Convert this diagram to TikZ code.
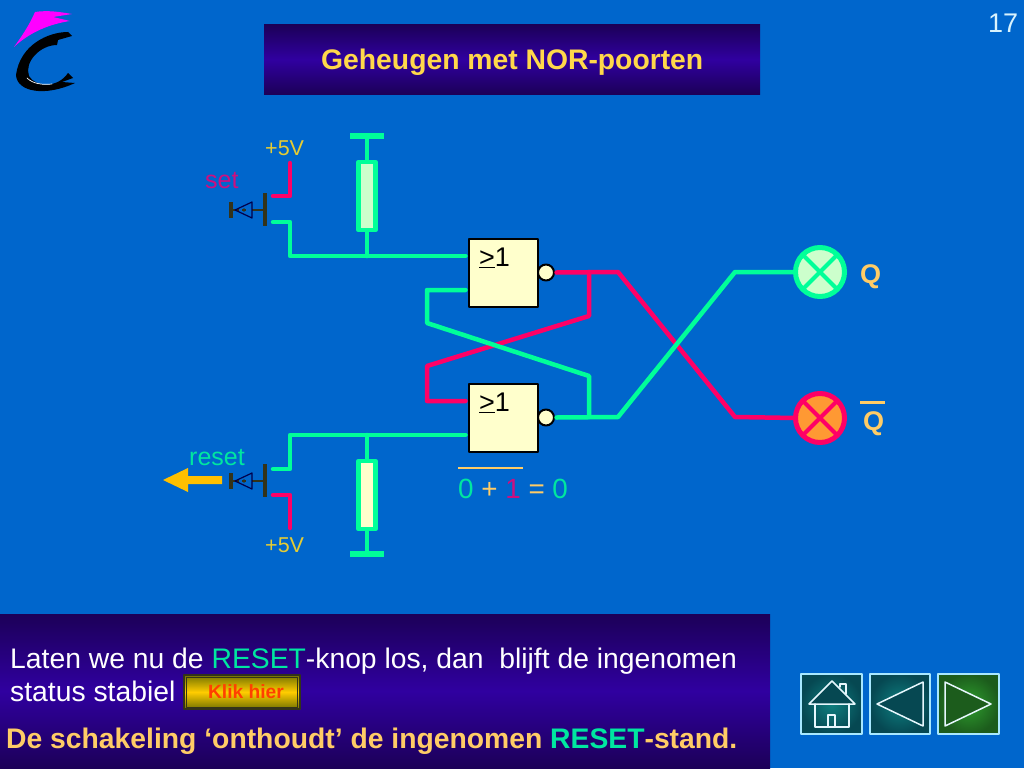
\documentclass[tikz,border=0pt]{standalone}
\usepackage{fontspec}
\setmainfont{Liberation Sans}
\usetikzlibrary{arrows.meta}
\definecolor{bgblue}{HTML}{0066CC}
\definecolor{paneldark}{HTML}{1C0058}
\definecolor{panelmid}{HTML}{3000A0}
\definecolor{wiregreen}{HTML}{00FF99}
\definecolor{wirered}{HTML}{FF0066}
\definecolor{txtorange}{HTML}{FFCC66}
\definecolor{txttitle}{HTML}{FFD84A}
\definecolor{txtyellow}{HTML}{E6CC33}
\definecolor{txtgreen}{HTML}{00E6A0}
\definecolor{txtred}{HTML}{CC0F80}
\definecolor{gatefill}{HTML}{FFFFCC}
\definecolor{lampgreen}{HTML}{CCFFCC}
\definecolor{lamporange}{HTML}{FF9933}
\definecolor{logopink}{HTML}{FF00FF}
\definecolor{pijlgeel}{HTML}{FFC000}
\definecolor{knopdark}{HTML}{33331A}
\definecolor{navdark}{HTML}{064852}
\definecolor{navmid}{HTML}{0E7F80}
\definecolor{navgreen}{HTML}{2E9E2E}
\definecolor{navgreend}{HTML}{1C5C1C}
\definecolor{navline}{HTML}{A8E8FF}
\def\fsz#1{\fontsize{#1}{#1}\selectfont}
\tikzset{
	green wire/.style={draw=wiregreen,line width=4.5pt},
	red wire/.style={draw=wirered,line width=4.5pt},
	gate/.style={draw=black,fill=gatefill,line width=2.5pt,minimum width=69pt,minimum height=68pt,inner sep=0pt},
	bubble/.style={circle,draw=black,fill=gatefill,line width=2pt,minimum size=16pt,inner sep=0pt},
	weerstand/.style={draw=wiregreen,line width=4.5pt,minimum width=17pt,minimum height=68pt,inner sep=0pt},
	railbar/.style={fill=wiregreen,minimum width=34pt,minimum height=6.5pt,inner sep=0pt},
	lamp/.style={circle,line width=5pt,minimum size=49pt,inner sep=0pt,outer sep=0pt},
	label/.style={inner sep=0pt,anchor=base west},
	navframe/.style={draw=navline,line width=2.2pt},
	navicon/.style={draw=white!90!cyan,line width=1.5pt},
}
\begin{document}
\begin{tikzpicture}[x=1pt,y=-1pt,line join=round,line cap=round]
	\fill[bgblue] (0,0) rectangle (1024,768);
	\useasboundingbox (0,0) rectangle (1024,768);
	% logo
	\fill[logopink] (14,47) .. controls (22,36) and (30,24) .. (35,12) .. controls (48,10) and (60,12) .. (72,14) -- (53,17) -- (70,21) .. controls (50,24) and (30,32) .. (14,47);
	\fill[black] (68,32) .. controls (48,32) and (20,45) .. (16,75) .. controls (17,92) and (45,97) .. (75,83) -- (62,82) -- (73,78) -- (68,73) .. controls (58,88) and (36,88) .. (29,76) .. controls (24,62) and (40,45) .. (57,45) -- (58,40) -- (72,36) -- cycle;
	\draw[white,line width=.7pt] (27,78) .. controls (33,84) and (43,85) .. (52,84);
	% titel
	\shade[top color=paneldark,bottom color=paneldark,middle color=panelmid] (264,25) rectangle (760,94);
	\node[label,txttitle] (titel) at (321,70) {\fsz{28.3}\bfseries Geheugen met NOR-poorten};
	\node[inner sep=0pt,white!85!cyan] (pagina) at (1003,23) {\fsz{27}17};
	% poorten
	\node[gate] (gatetop) at (503.5,273) {};
	\node[gate] (gatebot) at (503.5,418) {};
	\node[label] (ortop) at (479,266) {\fsz{27}\underline{>}1};
	\node[label] (orbot) at (479,411) {\fsz{27}\underline{>}1};
	\node[bubble] (bubtop) at (546,272.5) {};
	\node[bubble] (bubbot) at (546,417.5) {};
	% weerstanden
	\node[railbar] (railtop) at (367,136) {};
	\node[railbar] (railbot) at (367,554) {};
	\node[weerstand,fill=lampgreen] (rtop) at (367,196) {};
	\node[weerstand,fill=gatefill] (rbot) at (367,495) {};
	% lampen
	\node[lamp,draw=wiregreen,fill=lampgreen] (lampq) at (820,272) {};
	\node[lamp,draw=wirered,fill=lamporange] (lampn) at (820,418) {};
	\draw[wiregreen,line width=4pt,line cap=butt] (lampq.45)--(lampq.225) (lampq.135)--(lampq.315);
	\draw[wirered,line width=4pt,line cap=butt] (lampn.45)--(lampn.225) (lampn.135)--(lampn.315);
	% knooppunten
	\coordinate (intop) at (465.5,256);
	\coordinate (inbot) at (465.5,435);
	\coordinate (fbtop) at (465.5,290);
	\coordinate (fbbot) at (465.5,401);
	\coordinate (jsettop) at (367,256);
	\coordinate (jresbot) at (367,435);
	\coordinate (jred) at (589,272);
	\coordinate (jgreen) at (589,417);
	% bedrading
	\draw[red wire] (bubtop) ++(10.5,0) -- (618,272) -- (735,417) -- (lampn.west);
	\draw[red wire] (jred) -- (589,316) -- (427,366) -- (427,401) -- (fbbot);
	\draw[green wire] (fbtop) -- (427,290) -- (427,323) -- (589,376) -- (jgreen);
	\draw[green wire] (bubbot) ++(10.5,0) -- (618,417) -- (735,272) -- (lampq.west);
	\draw[green wire] (intop) -- (290,256) -- (290,222) -- (273,222);
	\draw[green wire] (inbot) -- (290,435) -- (290,469) -- (273,469);
	\draw[red wire] (290,163) -- (290,196) -- (273,196);
	\draw[red wire] (290,528) -- (290,495) -- (273,495);
	\draw[green wire] (railtop) -- (rtop) (rtop) -- (jsettop);
	\draw[green wire] (railbot) -- (rbot) (rbot) -- (jresbot);
	% drukknoppen
	\foreach \by in {210,481} {
		\begin{scope}[yshift=-\by pt]
		\draw[knopdark,line width=4.5pt,line cap=butt] (265,-17)--(265,16) (231,-8)--(231,8);
		\draw[knopdark,line width=2pt,line cap=butt] (233,0)--(239,0) (242,0)--(246,0) (252,0)--(263,0);
		\draw[black!70!blue,line width=1.2pt] (235,0)--(252,-8)--(252,8)--cycle;
		\fill[knopdark] (244,0) circle (1.8pt);
		\end{scope}
	}
	\fill[pijlgeel] (163,480) -- (188,468) -- (188,476) -- (222,476) -- (222,484) -- (188,484) -- (188,492) -- cycle;
	% teksten
	\node[label,txtyellow] (vtop) at (265,155) {\fsz{21.5}+5V};
	\node[label,txtyellow] (vbot) at (265,552) {\fsz{21.5}+5V};
	\node[label,txtred] (setlbl) at (205,188) {\fsz{25}set};
	\node[label,txtgreen] (resetlbl) at (189,465) {\fsz{25}reset};
	\node[label,txtorange] (qlbl) at (860,283) {\fsz{27}\bfseries Q};
	\node[label,txtorange] (nlbl) at (863,430) {\fsz{27}\bfseries Q};
	\draw[txtorange,line width=3pt,line cap=butt] (860,402)--(885,402);
	\draw[txtorange,line width=2.5pt,line cap=butt] (458,468)--(523,468);
	\node[label] (formule) at (458,498) {\fsz{27.8}\textcolor{txtgreen}{0} \textcolor{txtorange}{+} \textcolor{txtred}{1} \textcolor{txtorange}{=} \textcolor{txtgreen}{0}};
	% onderbalk
	\shade[top color=paneldark,bottom color=paneldark,middle color=panelmid] (0,614) rectangle (770,768);
	\node[label,white] (regel1) at (10,668) {\fsz{28.3}Laten we nu de \textcolor{txtgreen}{RESET}-knop los, dan\ \ blijft de ingenomen};
	\node[label,white] (regel2) at (10,701) {\fsz{28.3}status stabiel};
	\node[label,txtorange] (regel3) at (6,748) {\fsz{28.3}\bfseries De schakeling ‘onthoudt’ de ingenomen \textcolor{txtgreen}{RESET}-stand.};
	% klik hier
	\shade[top color=yellow!45!black,bottom color=yellow!45!black,middle color=orange!40!yellow] (184,675) rectangle (300,709);
	\draw[knopdark,line width=1.5pt] (184,675) rectangle (300,709);
	\draw[knopdark,line width=.8pt] (186.5,677) rectangle (297.5,707);
	\node[inner sep=0pt,red!75!yellow] (klik) at (246,692) {\fsz{19.2}\bfseries Klik hier};
	% navigatie
	\shade[inner color=navmid,outer color=navdark] (801,674) rectangle (862,734);
	\shade[inner color=navmid,outer color=navdark] (870,674) rectangle (930,734);
	\shade[inner color=navgreen,outer color=navgreend] (938,674) rectangle (999,734);
	\draw[navframe] (801,674) rectangle (862,734) (870,674) rectangle (930,734) (938,674) rectangle (999,734);
	\draw[navicon,fill=navdark] (809,704) -- (832,681) -- (855,704) -- cycle;
	\draw[navicon] (815,704) -- (815,727) -- (849,727) -- (849,704);
	\draw[navicon] (828,727) -- (828,715) -- (835,715) -- (835,727) (840,687) -- (840,684) -- (846,684) -- (846,694);
	\draw[navicon,fill=navdark] (877,704) -- (923,682) -- (923,726) -- cycle;
	\draw[navicon,fill=navgreend] (945,682) -- (991,704) -- (945,726) -- cycle;
\end{tikzpicture}
\end{document}
